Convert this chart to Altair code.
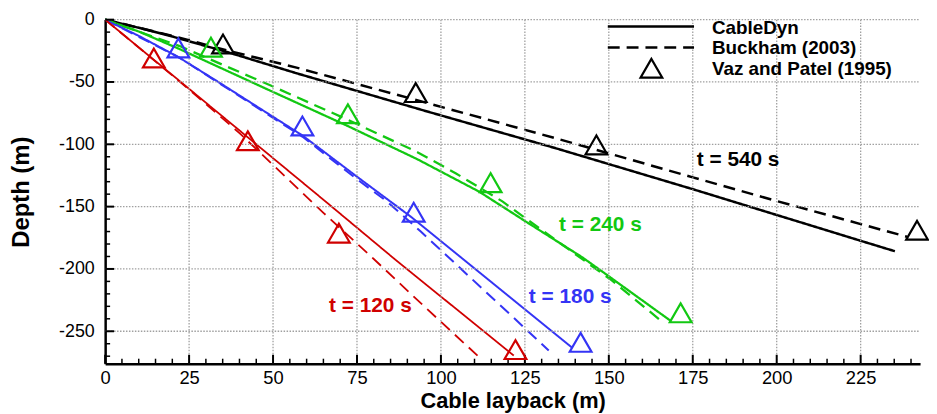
import altair as alt
import pandas as pd

# ---------------- data ----------------
# CableDyn (solid lines)
cd540_x = [0, 10, 20, 37.6, 57, 95.7, 134, 175, 200, 225, 235.2]
cd540_y = [0, -6.5, -13.5, -27, -43, -73.5, -103, -136, -156.7, -177.4, -185.8]
cd240_x = [0, 10, 22, 50, 72, 93, 111.4, 125, 142, 148, 168.5]
cd240_y = [0, -9.5, -23.4, -58, -85, -112, -138, -161.5, -190.5, -202, -241.8]
cd180_x = [0, 10, 21.8, 33.7, 58.8, 75, 91, 115, 139]
cd180_y = [0, -13, -30, -50, -93, -126, -158, -210.5, -263]
cd120_x = [0, 21.8, 65.6, 86.8, 121.7]
cd120_y = [0, -48.4, -145.8, -193.4, -269.5]

# Buckham (2003) (dashed lines)
bk540_x = [0, 20, 37.5, 57, 92, 134, 175, 200, 225, 238.8]
bk540_y = [0, -13, -25.5, -38.5, -64, -95, -126.5, -145.5, -164, -174.2]
bk240_x = [0, 22, 50, 72, 93, 104.5, 118.3, 125, 150.8, 166]
bk240_y = [0, -21, -53.7, -80, -106.3, -123.4, -145.8, -159, -209, -242.6]
bk180_x = [0, 21.8, 33.7, 58.8, 75, 84, 94, 108, 122, 132.1]
bk180_y = [0, -30, -50.5, -94, -128, -146, -170, -205, -240, -265.5]
bk120_x = [0, 25, 40, 65, 80, 95, 110.9]
bk120_y = [0, -56, -91, -155, -192, -230, -269.5]

# Vaz and Patel (1995) (triangles)
vp540_x = [35.1, 92.5, 146.3, 241.8]
vp540_y = [-19.5, -58.5, -100.5, -169]
vp240_x = [31.5, 72.3, 114.8, 171.4]
vp240_y = [-22.1, -75.5, -130.8, -235.2]
vp180_x = [21.8, 58.75, 91.9, 141.6]
vp180_y = [-22.7, -85.3, -154.5, -258.9]
vp120_x = [14.5, 42.5, 69.6, 122.2]
vp120_y = [-30.8, -97.2, -171.3, -264.7]

# annotation labels
label_text = ["t = 540 s", "t = 240 s", "t = 180 s", "t = 120 s"]
label_time = ["540", "240", "180", "120"]
label_x = [188.5, 147.5, 138.5, 79]
label_y = [-112.6, -164.7, -222.7, -229.8]

X_TICKS = [0, 25, 50, 75, 100, 125, 150, 175, 200, 225]
Y_TICKS = [0, -50, -100, -150, -200, -250]
X_MINOR = [v for v in range(5, 241, 5) if v % 25 != 0]
Y_MINOR = [-v for v in range(10, 271, 10) if v % 50 != 0]

LEGEND_LABELS = ["CableDyn", "Buckham (2003)", "Vaz and Patel (1995)"]

# ---------------- tables ----------------
rows = []
def add_line(xs, ys, t, src):
    for i, (a, b) in enumerate(zip(xs, ys)):
        rows.append({"x": a, "y": b, "time": t, "source": src, "idx": i})

add_line(cd540_x, cd540_y, "540", "CableDyn")
add_line(cd240_x, cd240_y, "240", "CableDyn")
add_line(cd180_x, cd180_y, "180", "CableDyn")
add_line(cd120_x, cd120_y, "120", "CableDyn")
add_line(bk540_x, bk540_y, "540", "Buckham (2003)")
add_line(bk240_x, bk240_y, "240", "Buckham (2003)")
add_line(bk180_x, bk180_y, "180", "Buckham (2003)")
add_line(bk120_x, bk120_y, "120", "Buckham (2003)")
lines_df = pd.DataFrame(rows)

prow = []
for xs, ys, t in [(vp540_x, vp540_y, "540"), (vp240_x, vp240_y, "240"),
                  (vp180_x, vp180_y, "180"), (vp120_x, vp120_y, "120")]:
    for a, b in zip(xs, ys):
        prow.append({"x": a, "y": b, "time": t})
pts_df = pd.DataFrame(prow)

lab_df = pd.DataFrame({"x": label_x, "y": label_y, "text": label_text, "time": label_time})

xmaj = pd.DataFrame({"x": X_TICKS})
xmin = pd.DataFrame({"x": X_MINOR})
ymaj = pd.DataFrame({"y": Y_TICKS})
ymin = pd.DataFrame({"y": Y_MINOR})

# ---------------- styling ----------------
FONT = "Liberation Sans"
W, H = 822, 347
XMAX, YMIN = 242.7, -276
times = ["540", "240", "180", "120"]
colors = ["#000000", "#12c812", "#3434f5", "#d00000"]
xscale = alt.Scale(domain=[0, XMAX], nice=False, zero=False)
yscale = alt.Scale(domain=[YMIN, 0], nice=False, zero=False)
cscale = alt.Scale(domain=times, range=colors)
GRID_COLOR = "#a0a0a0"

xaxis = alt.Axis(values=X_TICKS, title="Cable layback (m)", ticks=False, grid=False,
                 domainColor="black", domainWidth=2.5,
                 labelFont=FONT, labelFontSize=18.5,
                 labelColor="black", labelPadding=5, labelFlush=False, labelOverlap=False,
                 labelExpr="'' + datum.value",
                 titleFont=FONT, titleFontSize=22, titleFontWeight="bold", titleColor="black",
                 titleX=W / 2, titleY=37, titleBaseline="middle", titleAlign="center")
yaxis = alt.Axis(values=Y_TICKS, title="Depth (m)", ticks=False, grid=False,
                 domainColor="black", domainWidth=2.5,
                 labelFont=FONT, labelFontSize=18,
                 labelColor="black", labelPadding=11, labelFlush=False, labelOverlap=False,
                 labelExpr="'' + datum.value",
                 titleFont=FONT, titleFontSize=24, titleFontWeight="bold", titleColor="black",
                 titleX=-84, titleY=H / 2, titleAngle=270, titleBaseline="middle",
                 titleAlign="center")

X = alt.X("x:Q", scale=xscale, axis=xaxis)
Y = alt.Y("y:Q", scale=yscale, axis=yaxis)

lines = alt.Chart(lines_df).mark_line(clip=False).encode(
    x=X, y=Y,
    color=alt.Color("time:N", scale=cscale, legend=None),
    strokeDash=alt.StrokeDash("source:N",
                              scale=alt.Scale(domain=["CableDyn", "Buckham (2003)"],
                                              range=[[1, 0], [12, 7]]),
                              legend=None),
    strokeWidth=alt.StrokeWidth("time:N", scale=alt.Scale(domain=times,
                                                          range=[2.5, 1.8, 1.8, 1.8]),
                                legend=None),
    order="idx:Q",
)

# dotted grid at the major tick positions (decoration, placed in plot pixels)
one = pd.DataFrame({"k": [0]})
grid_layers = []
for v in X_TICKS[1:]:
    px = v / XMAX * W
    grid_layers.append(alt.Chart(one).mark_rule(stroke=GRID_COLOR, strokeWidth=1.3,
                                                strokeDash=[1.5, 1.5]).encode(
        x=alt.value(px), y=alt.value(0), y2=alt.value(H)))
for v in Y_TICKS:
    py = v / YMIN * H
    grid_layers.append(alt.Chart(one).mark_rule(stroke=GRID_COLOR, strokeWidth=1.3,
                                                strokeDash=[1.5, 1.5]).encode(
        y=alt.value(py), x=alt.value(0), x2=alt.value(W)))

points = alt.Chart(pts_df).mark_point(shape="triangle-up", filled=False, size=480,
                                      strokeWidth=2.2, opacity=1).encode(
    x=X, y=Y,
    color=alt.Color("time:N", scale=cscale, legend=None),
)

labels = alt.Chart(lab_df).mark_text(font=FONT, fontSize=21, fontWeight="bold",
                                     align="center", baseline="middle").encode(
    x=X, y=Y,
    text="text:N",
    color=alt.Color("time:N", scale=cscale, legend=None),
)

# inward ticks
xt_major = alt.Chart(xmaj).mark_rule(color="black", strokeWidth=2).encode(
    x=X, y=alt.value(H), y2=alt.value(H - 9))
xt_minor = alt.Chart(xmin).mark_rule(color="black", strokeWidth=1.5).encode(
    x=X, y=alt.value(H), y2=alt.value(H - 5))
yt_major = alt.Chart(ymaj).mark_rule(color="black", strokeWidth=2).encode(
    y=Y, x=alt.value(0), x2=alt.value(9))
yt_minor = alt.Chart(ymin).mark_rule(color="black", strokeWidth=1.5).encode(
    y=Y, x=alt.value(0), x2=alt.value(5))

# legend (top right)
leg_solid = alt.Chart(one).mark_rule(color="black", strokeWidth=2.5).encode(
    x=alt.value(507), x2=alt.value(594), y=alt.value(7))
leg_dash = alt.Chart(one).mark_rule(color="black", strokeWidth=2.5,
                                    strokeDash=[12, 7]).encode(
    x=alt.value(507), x2=alt.value(594), y=alt.value(28))
leg_tri = alt.Chart(one).mark_point(shape="triangle-up", filled=False,
                                    size=480, strokeWidth=2.2,
                                    color="black", opacity=1).encode(
    x=alt.value(551), y=alt.value(49))
leg_texts = [
    alt.Chart(one).mark_text(font=FONT, fontSize=19, fontWeight="bold",
                             align="left", baseline="middle",
                             color="black").encode(
        x=alt.value(612), y=alt.value(yy), text=alt.value(lbl))
    for lbl, yy in zip(LEGEND_LABELS, [8, 29, 50])
]

chart = alt.layer(lines, *grid_layers, xt_major, xt_minor, yt_major, yt_minor, points, labels,
                  leg_solid, leg_dash, leg_tri, *leg_texts).properties(
    width=W, height=H,
    padding={"left": 98, "top": 10, "right": 9, "bottom": 48},
    autosize=alt.AutoSizeParams(type="none"),
    background="white",
).configure_view(stroke=None)

chart.save("out.html", embed_options={"renderer": "svg", "actions": False})
